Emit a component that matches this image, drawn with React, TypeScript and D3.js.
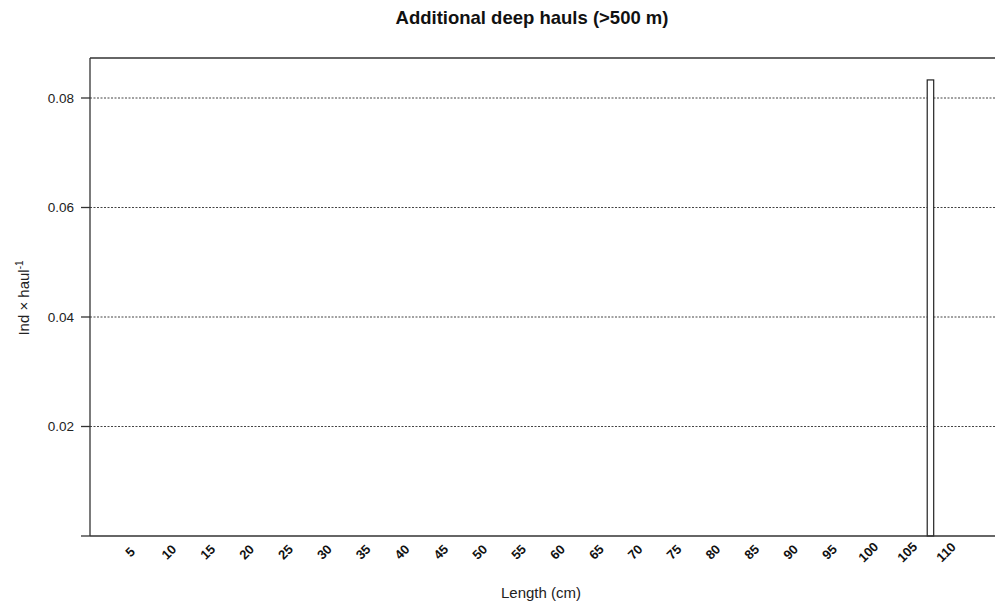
import React from 'react';
import * as d3 from 'd3';

// length classes (cm) that carry a value, and their abundance
const lengths = [108];
const values = [0.0833];

const xTickLabels = [5, 10, 15, 20, 25, 30, 35, 40, 45, 50, 55, 60, 65, 70, 75, 80, 85, 90, 95, 100, 105, 110];
const yTicks = [0, 0.02, 0.04, 0.06, 0.08];
const yTickLabels = ['', '0.02', '0.04', '0.06', '0.08'];

const width = 995;
const height = 610;
const plot = { left: 90, top: 58, right: 1000, bottom: 536 };

const App = () => {
    const x = d3.scaleLinear().domain([5, 110]).range([130, 946]);
    const y = d3.scaleLinear().domain([0, 0.08]).range([plot.bottom, 98]);
    const step = x(6) - x(5);
    const barW = step / 1.2;

    const bars = lengths.map((l, i) => ({ length: l, value: values[i] }));
    const font = 'Liberation Sans, Arial, sans-serif';

    return (
        <svg width={width} height={height} style={{ position: 'absolute', left: 0, top: 0 }} fontFamily={font}>
            <rect x={0} y={0} width={width} height={height} fill="#fff" />
            <text x={532} y={24} textAnchor="middle" fontSize={18.5} fontWeight="bold" fill="#111">
                Additional deep hauls (&gt;500 m)
            </text>

            {/* dotted grid */}
            {yTicks.filter(t => t > 0).map(t => (
                <line key={'g' + t} x1={plot.left} x2={plot.right} y1={y(t)} y2={y(t)}
                    stroke="#444" strokeWidth={1} strokeDasharray="2,1.5" />
            ))}

            {/* bars */}
            {bars.map(d => (
                <rect key={d.length} x={x(d.length) - barW / 2} y={y(d.value)} width={barW}
                    height={y(0) - y(d.value)} fill="#fff" stroke="#222" strokeWidth={1.2} />
            ))}

            {/* box */}
            <line x1={plot.left} x2={plot.left} y1={plot.top} y2={plot.bottom} stroke="#333" strokeWidth={1.3} />
            <line x1={plot.left} x2={plot.right} y1={plot.top} y2={plot.top} stroke="#333" strokeWidth={1.3} />
            <line x1={plot.left} x2={plot.right} y1={plot.bottom} y2={plot.bottom} stroke="#333" strokeWidth={1.3} />

            {/* y axis */}
            {yTicks.map((t, i) => (
                <g key={'y' + t} transform={`translate(0,${y(t)})`}>
                    <line x1={81} x2={plot.left} stroke="#333" strokeWidth={1.3} />
                    <text x={74} dy="0.35em" textAnchor="end" fontSize={13.5} fill="#222">{yTickLabels[i]}</text>
                </g>
            ))}

            {/* x labels */}
            {xTickLabels.map(l => (
                <text key={'x' + l} transform={`translate(${x(l)},552) rotate(-45)`} dy="0.35em"
                    textAnchor="middle" fontSize={13} fontWeight="bold" fill="#111">{l}</text>
            ))}

            <text x={541} y={598} textAnchor="middle" fontSize={15} fill="#222">Length (cm)</text>
            <text transform="translate(29,298) rotate(-90)" textAnchor="middle" fontSize={15} fill="#222">
                Ind × haul<tspan dy={-6} fontSize={10}>-1</tspan>
            </text>
        </svg>
    );
};

export default App;
